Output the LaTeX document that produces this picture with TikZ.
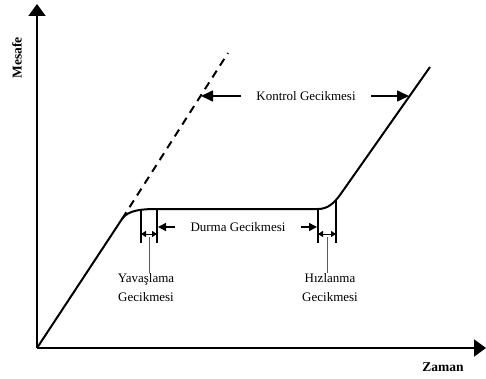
\documentclass[tikz,border=0pt]{standalone}
\usepackage{fontspec}
\setmainfont{Liberation Serif}
\usetikzlibrary{arrows.meta}
\definecolor{leadgray}{RGB}{90,90,90}

\begin{document}
\begin{tikzpicture}[x=1pt, y=-1pt,
  font=\fontsize{13}{19}\selectfont,
  axis/.style={line width=2pt, -{Triangle[length=12pt, width=17pt]}},
  curve/.style={line width=2pt, line join=round},
  bar/.style={line width=1.5pt},
  arr/.style={-{Triangle[length=12pt, width=11pt]}, line width=1.7pt},
  sarr/.style={-{Triangle[length=8pt, width=8pt]}, line width=1.5pt},
  tick/.style={{Triangle[length=5pt, width=6pt]}-{Triangle[length=5pt, width=6pt]}, line width=1pt},
  lead/.style={draw=leadgray, line width=0.9pt},
  lbl/.style={align=center, inner ysep=0pt, inner xsep=15pt},
  axlbl/.style={font=\fontsize{13.5}{15}\selectfont\bfseries, inner sep=0pt}
]
\useasboundingbox (0,0) rectangle (486,379);

% axes
\coordinate (o) at (37,348);
\coordinate (ytop) at (37,4);
\coordinate (xend) at (486,348);
\draw[axis] (o) -- (ytop);
\draw[axis] (o) -- (xend);
\node[axlbl, rotate=90] (mesafe) at (17,58) {Mesafe};
\node[axlbl] (zaman) at (443,367) {Zaman};

% distance over time
\coordinate (b1) at (122,219);
\coordinate (d1) at (157,209);
\coordinate (d2) at (318,209);
\coordinate (b2) at (340,195);
\coordinate (e) at (430,67);
\coordinate (f) at (228,53);
\draw[curve] (o) -- (b1) .. controls (128,210) and (142,209) .. (d1)
  -- (d2) .. controls (328,209) and (334,203) .. (b2) -- (e);
\draw[curve, dash pattern=on 8pt off 6pt] (b1) -- (f);

% delay bars
\draw[bar] (141,210) -- (141,243);
\draw[bar] (d1) -- (157,243);
\draw[bar] (d2) -- (318,243);
\draw[bar] (336,200) -- (336,243);
\draw[tick] (141,234) -- (157,234);
\draw[tick] (318,234) -- (336,234);

% control delay
\node[lbl] (kontrol) at (306,96) {Kontrol Gecikmesi};
\coordinate (kl) at (201,96);
\coordinate (kr) at (409,96);
\draw[arr] (kontrol.west) -- (kl);
\draw[arr] (kontrol.east) -- (kr);

% stop delay
\node[lbl] (durma) at (238,227) {Durma Gecikmesi};
\coordinate (dl) at (158,227);
\coordinate (dr) at (317,227);
\draw[sarr] (durma.west) -- (dl);
\draw[sarr] (durma.east) -- (dr);

% lower labels
\node[lbl, anchor=north] (yav) at (146,273) {Yava\c{s}lama\\Gecikmesi};
\node[lbl, anchor=north] (hiz) at (330,273) {H\i zlanma\\Gecikmesi};
\draw[lead] (149,237) -- (149,237 |- yav.north);
\draw[lead] (327,237) -- (327,237 |- hiz.north);
\end{tikzpicture}
\end{document}
